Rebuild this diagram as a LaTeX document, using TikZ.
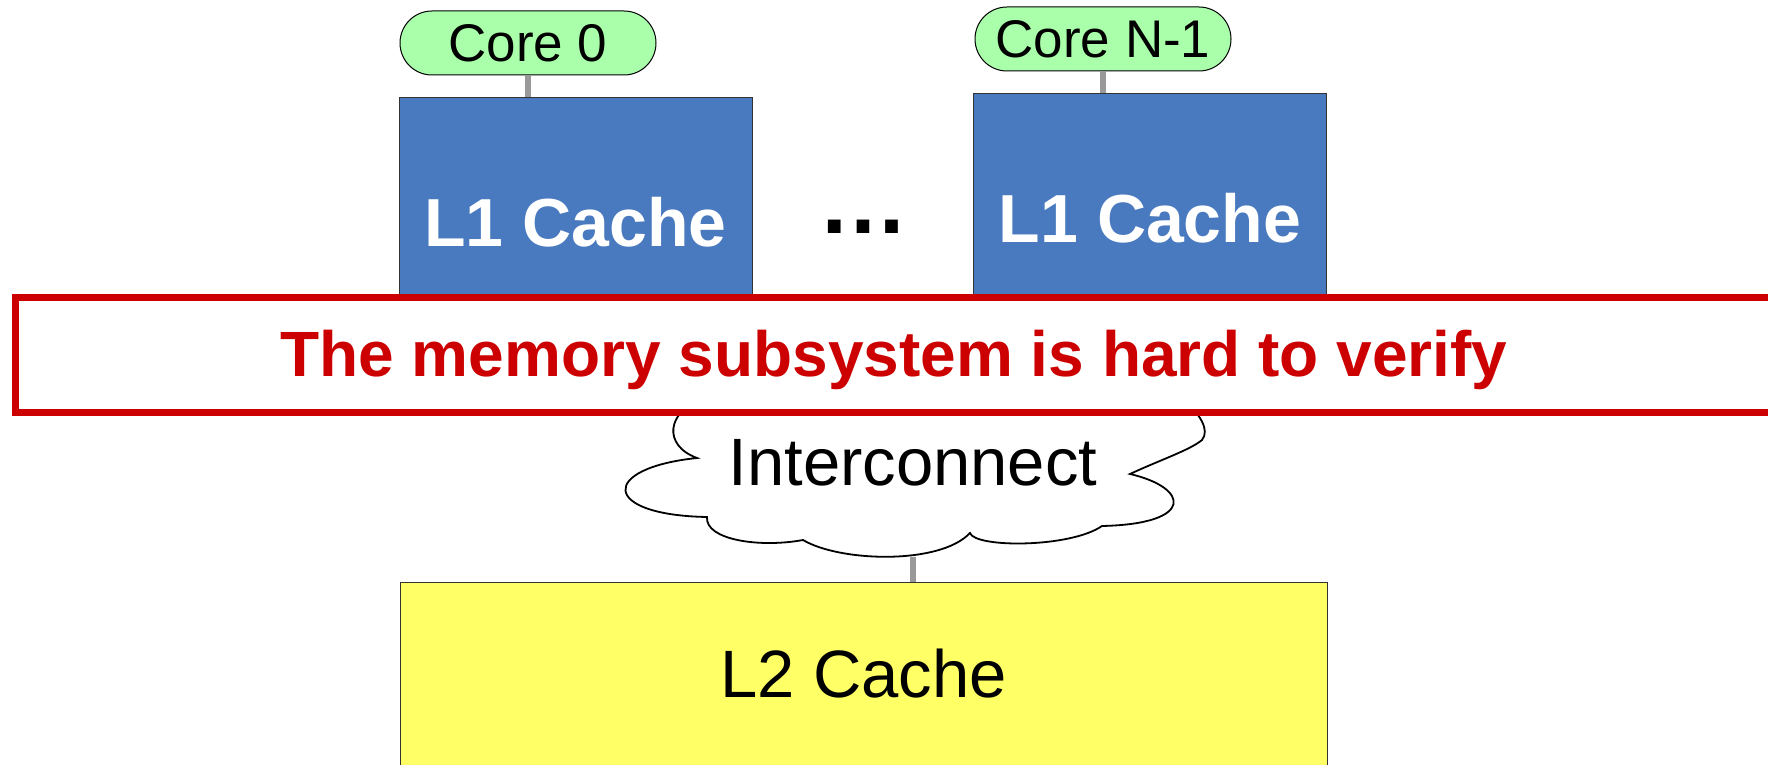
\documentclass[tikz,border=0pt]{standalone}
\usepackage{fontspec}
\setmainfont{Liberation Sans}
\usetikzlibrary{positioning}
\definecolor{coregreen}{RGB}{170, 255, 170}
\definecolor{lonecolor}{RGB}{73, 122, 191}
\definecolor{ltwocolor}{RGB}{255, 255, 102}
\definecolor{alertcolor}{RGB}{204, 0, 0}

\begin{document}
\begin{tikzpicture}[x=0.5pt,y=-0.5pt,
    core/.style={rectangle, draw=black, line width=0.5pt, fill=coregreen, rounded corners=16pt, minimum width=128pt, minimum height=32pt, inner sep=0pt, font=\fontsize{26.5}{30}\selectfont},
    lone/.style={rectangle, draw=black!80, line width=0.5pt, fill=lonecolor, minimum width=176.5pt, minimum height=124pt, text=white, font=\fontsize{34}{40}\selectfont\bfseries},
    ltwo/.style={rectangle, draw=black!80, line width=0.5pt, fill=ltwocolor, minimum width=463.5pt, minimum height=92pt, font=\fontsize{33.5}{40}\selectfont},
    link/.style={draw=black!40, line width=2.6pt},
    big/.style={font=\fontsize{33.5}{40}\selectfont}
]
\clip (0,0) rectangle (1768,765);

% caches and cores
\node[lone] (l1a) at (575.5,222) {L1 Cache};
\node[lone] (l1b) at (1150,218) {L1 Cache};
\node[font=\fontsize{45}{50}\selectfont\bfseries] (dots) at (863,227) {…};
\node[core] (core0) at (528,43) {Core 0};
\node[core] (coreN) at (1103,39) {Core N-1};
\draw[link] (core0.south) -- (core0.south |- l1a.north);
\draw[link] (coreN.south) -- (coreN.south |- l1b.north);

% interconnect cloud
\draw[fill=white, line width=0.9pt] (700,400)
    .. controls (668,412) and (662,445) .. (697,458)
    .. controls (600,468) and (600,515) .. (707,517)
    .. controls (705,540) and (760,548) .. (803,540)
    .. controls (840,562) and (940,565) .. (970,533)
    .. controls (975,548) and (1070,548) .. (1102,526)
    .. controls (1195,524) and (1190,488) .. (1130,474)
    .. controls (1160,460) and (1190,450) .. (1202,440)
    .. controls (1210,430) and (1200,415) .. (1185,400) -- cycle;
\node[big] (icn) at (913,463) {Interconnect};
\coordinate (cloudbot) at (913,557);

% message banner
\draw[draw=alertcolor, fill=white, line width=3.5pt] (15.5,297.5) rectangle (1800,412.5);
\node[text=alertcolor, font=\fontsize{32}{38}\selectfont\bfseries] (msg) at (894,360) {The memory subsystem is hard to verify};

\node[ltwo] (l2) at (863.5,674) {L2 Cache};
\draw[link] (cloudbot) -- (cloudbot |- l2.north);
\end{tikzpicture}
\end{document}
